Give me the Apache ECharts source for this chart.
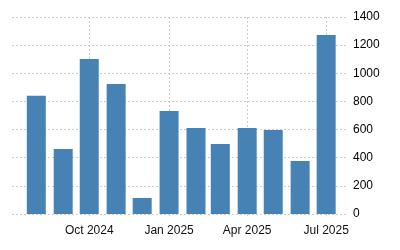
<!DOCTYPE html>
<html><head><meta charset="utf-8">
<script src="https://cdn.jsdelivr.net/npm/echarts@6/dist/echarts.min.js"></script>
<style>html,body{margin:0;padding:0;background:#fff}#c{width:400px;height:250px}</style>
</head><body><div id="c"></div>
<script>
const months = ['2024-08-01','2024-09-01','2024-10-01','2024-11-01','2024-12-01','2025-01-01','2025-02-01','2025-03-01','2025-04-01','2025-05-01','2025-06-01','2025-07-01'];
const values = [840, 462, 1102, 924, 114, 732, 611, 497, 611, 597, 377, 1272];
const xTicks = ['2024-10-01','2025-01-01','2025-04-01','2025-07-01'];
const yTicks = [0, 200, 400, 600, 800, 1000, 1200, 1400];
const monthNames = ['Jan','Feb','Mar','Apr','May','Jun','Jul','Aug','Sep','Oct','Nov','Dec'];
const ts = s => new Date(s + 'T00:00:00Z').getTime();
const chart = echarts.init(document.getElementById('c'), null, {renderer:'canvas'});
chart.setOption({
  animation:false,
  grid:{left:12,right:53,top:17,bottom:36,containLabel:false},
  xAxis:{
    type:'value',
    min: ts('2024-07-04'), max: ts('2025-07-25'),
    axisLine:{show:false},
    axisTick:{show:true, customValues: xTicks.map(ts), length:3, inside:false,
      lineStyle:{color:'#cccccc', type:[2,2], width:1}},
    splitLine:{show:true, lineStyle:{color:'#cccccc', type:[2,2], width:1}},
    axisLabel:{
      customValues: xTicks.map(ts),
      color:'#111', fontSize:12, fontFamily:'Liberation Sans, Arial, sans-serif', margin:11,
      formatter: v => { const d = new Date(v); return monthNames[d.getUTCMonth()] + ' ' + d.getUTCFullYear(); }
    }
  },
  yAxis:{
    type:'value', position:'right', min:yTicks[0], max:yTicks[yTicks.length-1], interval:200,
    axisLine:{show:false}, axisTick:{show:false},
    splitLine:{show:true, lineStyle:{color:'#cccccc', type:[2,2], width:1}},
    axisLabel:{color:'#000', fontSize:12, fontFamily:'Liberation Sans, Arial, sans-serif', margin:6,
      formatter: v => String(v)}
  },
  series:[{
    type:'bar', barWidth:19,
    itemStyle:{color:'#4682B4'},
    data: months.map((m,i)=>[ts(m), values[i]]),
    z:2
  }]
});
</script></body></html>
